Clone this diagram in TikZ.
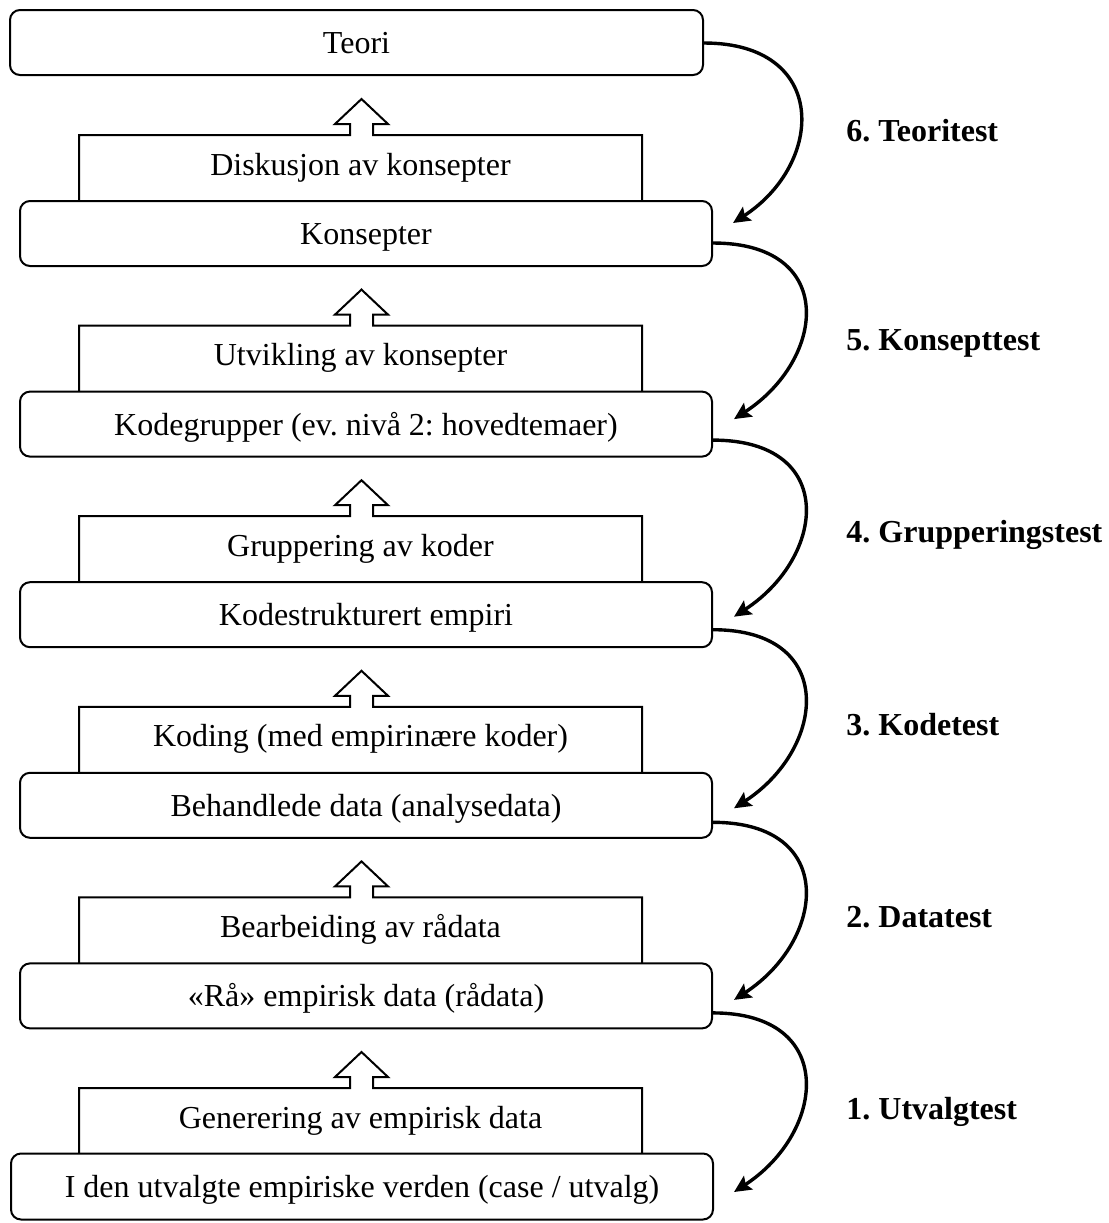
\documentclass[tikz,border=0pt]{standalone}
\usepackage{fontspec}
\setmainfont{Liberation Serif}
\usetikzlibrary{arrows.meta,calc}
\frenchspacing
\newcommand{\stageshape}[1]{%
  \draw[stage] (79,#1+66) -- (79,#1) -- (350,#1) -- (350,#1-11) -- (335,#1-11)
    -- (361.5,#1-36) -- (388,#1-11) -- (373,#1-11) -- (373,#1) -- (642,#1) -- (642,#1+66);}
\begin{document}
\begin{tikzpicture}[x=0.5pt,y=-0.5pt,
  txt/.style={font=\fontsize{16}{19}\selectfont},
  box/.style={txt, draw, rounded corners=5pt, line width=1pt, inner sep=0pt,
    text height=11pt, text depth=0pt, minimum height=32.5pt, fill=white},
  midtxt/.style={txt, anchor=base, inner sep=0pt},
  testlbl/.style={txt, font=\fontsize{16}{19}\selectfont\bfseries, anchor=base west, inner sep=0pt},
  stage/.style={draw, line width=1pt, line join=miter},
  loop/.style={line width=1.7pt, -{Stealth[length=8.5pt,width=8pt,inset=1.5pt]}}]
\useasboundingbox (0,0) rectangle (1109,1223);

% stage rectangles with block arrows
\stageshape{135}
\stageshape{325.6}
\stageshape{516.2}
\stageshape{706.8}
\stageshape{897.4}
\stageshape{1088}

% boxes
\node[box, minimum width=346.5pt] (b0) at (356.5,42.5) {Teori};
\node[box, minimum width=346pt] (b1) at (366,233.5) {Konsepter};
\node[box, minimum width=346pt] (b2) at (366,424.1) {Kodegrupper (ev. nivå 2: hovedtemaer)};
\node[box, minimum width=346pt] (b3) at (366,614.7) {Kodestrukturert empiri};
\node[box, minimum width=346pt] (b4) at (366,805.3) {Behandlede data (analysedata)};
\node[box, minimum width=346pt] (b5) at (366,995.9) {«Rå» empirisk data (rådata)};
\node[box, minimum width=351pt, minimum height=33pt] (b6) at (362,1186.5) {I den utvalgte empiriske verden (case / utvalg)};

% stage texts
\node[midtxt] (s1) at (360.5,175) {Diskusjon av konsepter};
\node[midtxt] (s2) at (360.5,365.6) {Utvikling av konsepter};
\node[midtxt] (s3) at (360.5,556.2) {Gruppering av koder};
\node[midtxt] (s4) at (360.5,746.8) {Koding (med empirinære koder)};
\node[midtxt] (s5) at (360.5,937.4) {Bearbeiding av rådata};
\node[midtxt] (s6) at (360.5,1128) {Generering av empirisk data};

% loops
\draw[loop] ($(b0.east)+(0,0.5)$) .. controls +(125,0) and +(92,-60) .. ($(b1.east)+(20,-10.5)$);
\draw[loop] ($(b1.east)+(0,9.5)$) .. controls +(125,0) and +(92,-60) .. ($(b2.east)+(21,-5)$);
\draw[loop] ($(b2.east)+(0,16)$) .. controls +(125,0) and +(92,-60) .. ($(b3.east)+(21,2)$);
\draw[loop] ($(b3.east)+(0,15)$) .. controls +(125,0) and +(92,-60) .. ($(b4.east)+(21,3)$);
\draw[loop] ($(b4.east)+(0,17)$) .. controls +(125,0) and +(92,-60) .. ($(b5.east)+(21,4)$);
\draw[loop] ($(b5.east)+(0,17)$) .. controls +(125,0) and +(92,-60) .. ($(b6.east)+(20,5.5)$);

% test labels
\node[testlbl] (t6) at (846,141) {6. Teoritest};
\node[testlbl] (t5) at (846,350) {5. Konsepttest};
\node[testlbl] (t4) at (846,542) {4. Grupperingstest};
\node[testlbl] (t3) at (846,735) {3. Kodetest};
\node[testlbl] (t2) at (846,927) {2. Datatest};
\node[testlbl] (t1) at (846,1119) {1. Utvalgtest};
\end{tikzpicture}
\end{document}
